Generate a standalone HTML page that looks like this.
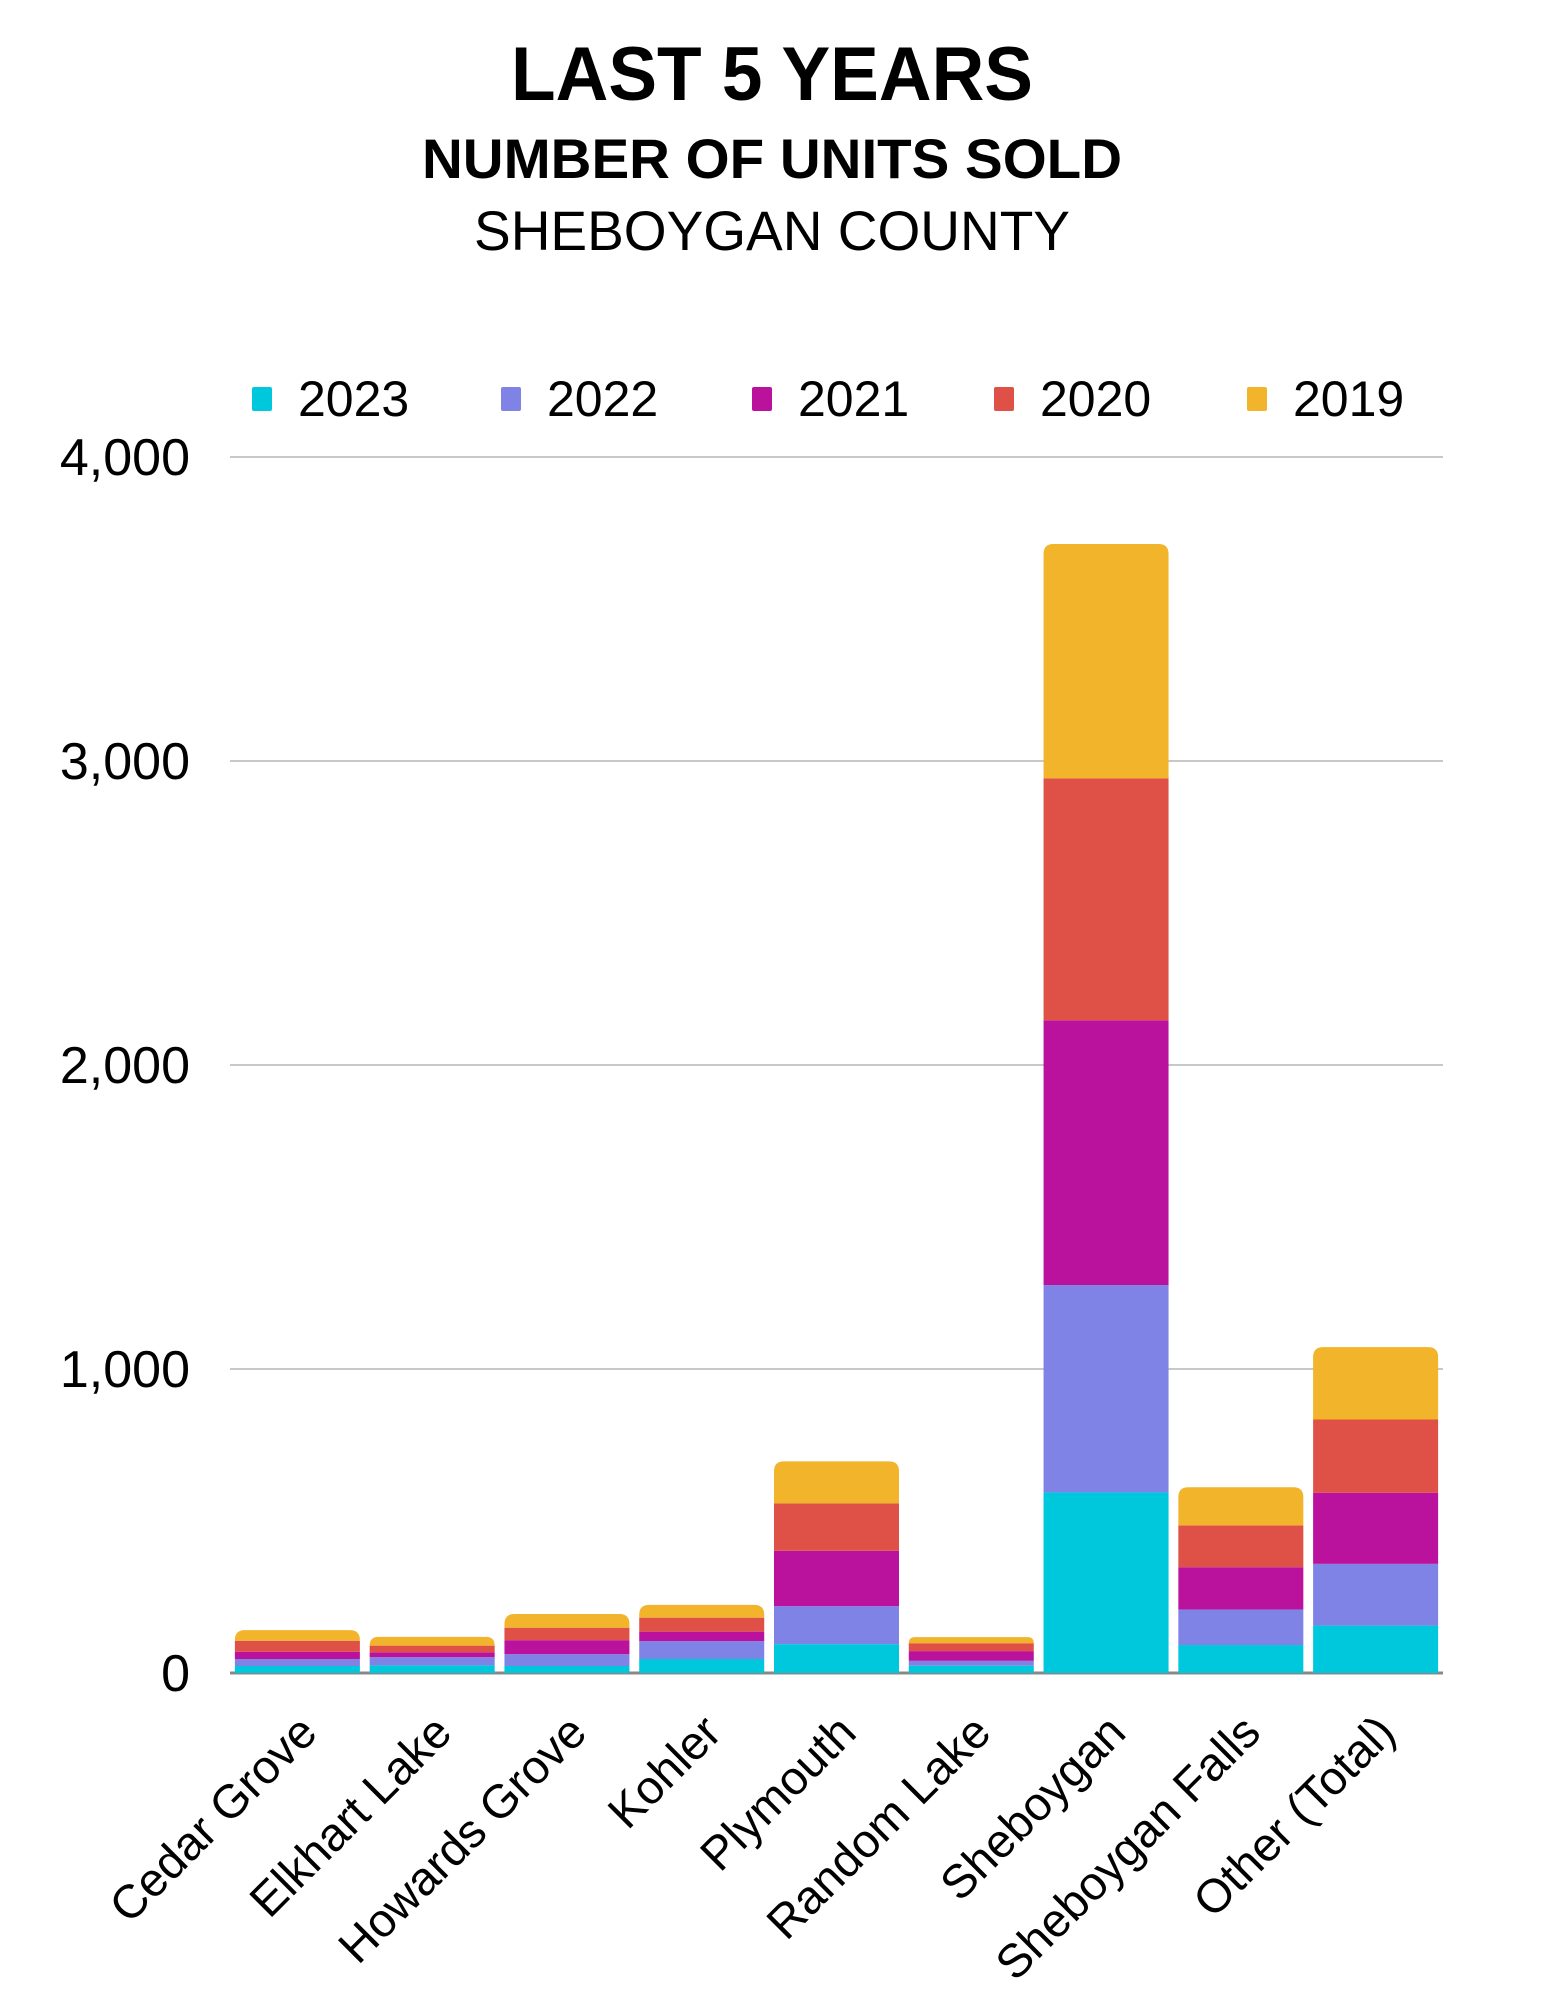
<!DOCTYPE html>
<html><head><meta charset="utf-8"><style>
html,body{margin:0;padding:0;background:#fff;}
svg{display:block;font-family:"Liberation Sans",sans-serif;}
</style></head><body>
<svg id="chart" width="1545" height="2000" viewBox="0 0 1545 2000">
<text x="772" y="100" text-anchor="middle" font-size="76" font-weight="bold" textLength="522" lengthAdjust="spacingAndGlyphs">LAST 5 YEARS</text>
<text x="772" y="178" text-anchor="middle" font-size="56" font-weight="bold" textLength="700" lengthAdjust="spacingAndGlyphs">NUMBER OF UNITS SOLD</text>
<text x="772" y="250" text-anchor="middle" font-size="56" textLength="596" lengthAdjust="spacingAndGlyphs">SHEBOYGAN COUNTY</text>
<g id="legend"></g>
<g id="grid"></g>
<g id="bars"></g>
<g id="xlabels"></g>
</svg>
<script>
const categories = ["Cedar Grove","Elkhart Lake","Howards Grove","Kohler","Plymouth","Random Lake","Sheboygan","Sheboygan Falls","Other (Total)"];
const seriesNames = ["2023","2022","2021","2020","2019"];
const v2023 = [23,25,23,46,95,24,594,92,156];
const v2022 = [23,27,39,59,125,16,682,117,203];
const v2021 = [24,16,46,31,182,32,871,139,234];
const v2020 = [36,22,41,46,156,26,796,137,241];
const v2019 = [35,29,45,42,138,20,771,126,238];
const yTicks = [0,1000,2000,3000,4000];
const yTickLabels = ["0","1,000","2,000","3,000","4,000"];

const series = [v2023,v2022,v2021,v2020,v2019];
const colors = ["#00c8dc","#8083e6","#bb129e","#df5147","#f1b42a"];
const NS = "http://www.w3.org/2000/svg";
const left = 230, right = 1443, y0 = 1673, yTop = 457, yMax = 4000;
const band = (right-left)/categories.length, bw = 125;
function yS(v){ return y0 - (v/yMax)*(y0-yTop); }
function xS(i){ return left + band*i + (band-bw)/2; }
function mk(tag, attrs, parent){ const e=document.createElementNS(NS,tag); for(const k in attrs) e.setAttribute(k,attrs[k]); parent.appendChild(e); return e; }

const grid = document.getElementById('grid');
yTicks.forEach((t,i)=>{
  const l = mk('line',{x1:left,x2:right,y1:yS(t),y2:yS(t),stroke:i===0?'#888':'#c8c8c8','stroke-width':i===0?3:2},grid);
  
  
  const tx = mk('text',{x:190,y:yS(t)+18,'text-anchor':'end','font-size':52},grid);
  tx.textContent = yTickLabels[i];
  
  
});

const legend = document.getElementById('legend');
const lx = [252,501,752,994,1247];
seriesNames.forEach((n,i)=>{
  const r = mk('rect',{x:lx[i],y:387,width:20,height:24,rx:2,fill:colors[i]},legend);
  
  
  const t = mk('text',{x:lx[i]+46,y:416,'font-size':50},legend);
  t.textContent = n;
  
  
});

const bars = document.getElementById('bars');
categories.forEach((c,ci)=>{
  let cum = 0;
  const x = xS(ci);
  series.forEach((s,si)=>{
    const v = s[ci];
    const yb = yS(cum), yt = yS(cum+v);
    cum += v;
    let el;
    if(si === series.length-1){
      const r = Math.min(10, (yb-yt));
      const d = `M${x},${yb} L${x},${yt+r} Q${x},${yt} ${x+r},${yt} L${x+bw-r},${yt} Q${x+bw},${yt} ${x+bw},${yt+r} L${x+bw},${yb} Z`;
      el = mk('path',{d:d,fill:colors[si]},bars);
    } else {
      el = mk('rect',{x:x,y:yt,width:bw,height:yb-yt,fill:colors[si]},bars);
    }
    
    
  });
});

const xl = document.getElementById('xlabels');
categories.forEach((c,ci)=>{
  const cx = xS(ci)+bw/2+22, cy = 1735;
  const t = mk('text',{x:cx,y:cy,'text-anchor':'end','font-size':47,transform:`rotate(-45 ${cx} ${cy})`},xl);
  t.textContent = c;
  
  
});
</script>
</body></html>
